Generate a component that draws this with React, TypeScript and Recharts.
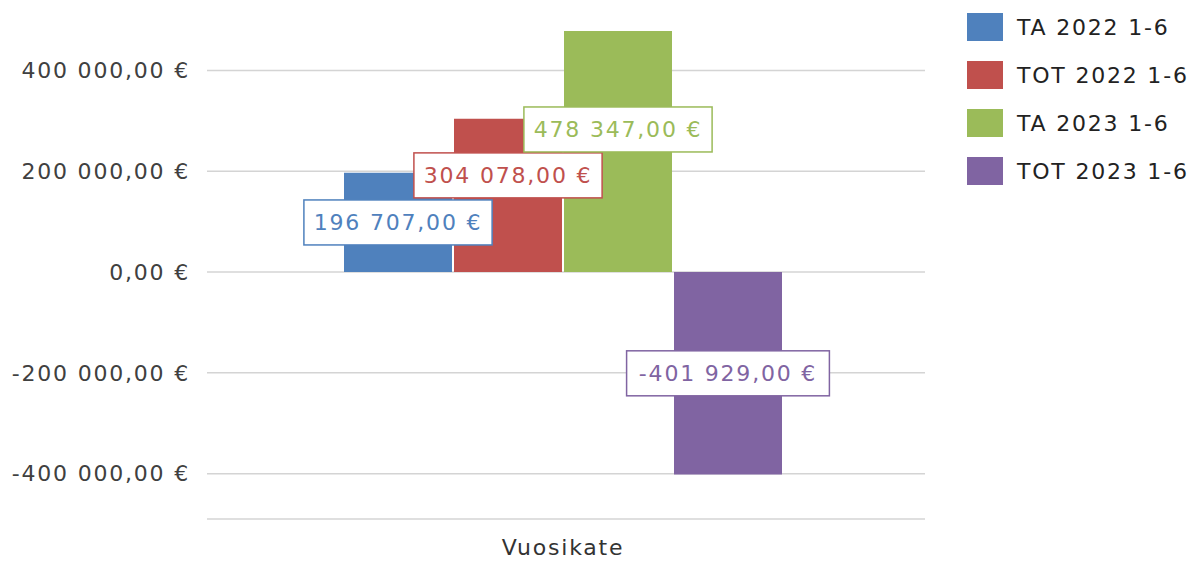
import { BarChart, Bar, XAxis, YAxis, CartesianGrid, Legend, LabelList } from "recharts";

const categories = ["Vuosikate"];
const seriesNames = ["TA 2022 1-6", "TOT 2022 1-6", "TA 2023 1-6", "TOT 2023 1-6"];
const seriesValues = [196707, 304078, 478347, -401929];
const seriesColors = ["#4f81bd", "#c0504d", "#9bbb59", "#8064a2"];
const labelNudge = [0, -20, -22, 0];
const yTicks = [-400000, -200000, 0, 200000, 400000];

const data = categories.map((name) => {
  const row: Record<string, string | number> = { name };
  seriesNames.forEach((s, i) => {
    row["s" + i] = seriesValues[i];
  });
  return row;
});

const FONT = "'DejaVu Sans', Verdana, sans-serif";
const TEXT = { fontSize: 22, fontFamily: FONT, letterSpacing: 1.8 };

function euro(v: number) {
  const sign = v < 0 ? "-" : "";
  const [int, dec] = Math.abs(v).toFixed(2).split(".");
  const grouped = int.replace(/\B(?=(\d{3})+(?!\d))/g, " ");
  return `${sign}${grouped},${dec} €`;
}

function makeLabel(idx: number) {
  return (props: any) => {
    const { x, y, width, height, value } = props;
    const text = euro(Number(value));
    const cx = Number(x) + Number(width) / 2;
    const cy = Number(y) + Number(height) / 2 + labelNudge[idx];
    const w = text.length * 14.6 + 13;
    const h = 45;
    return (
      <g>
        <rect x={cx - w / 2} y={cy - h / 2} width={w} height={h} fill="#fff" stroke={seriesColors[idx]} strokeWidth={1.5} />
        <text x={cx} y={cy} textAnchor="middle" dominantBaseline="central" fill={seriesColors[idx]} {...TEXT}>
          {text}
        </text>
      </g>
    );
  };
}

function LegendBox() {
  return (
    <div style={{ fontFamily: FONT }}>
      {seriesNames.map((s, i) => (
        <div key={s} style={{ display: "flex", alignItems: "center", height: 48 }}>
          <div style={{ width: 36, height: 28, background: seriesColors[i], marginRight: 14 }} />
          <span style={{ fontSize: 22, color: "#222", letterSpacing: 1.8, whiteSpace: "nowrap" }}>{s}</span>
        </div>
      ))}
    </div>
  );
}

export default function App() {
  return (
    <div style={{ position: "absolute", left: 0, top: 0, background: "#fff" }}>
      <BarChart width={1200} height={563} data={data} barSize={108} barGap={2}
        margin={{ top: 20, right: 275, bottom: 0, left: 0 }}>
        <CartesianGrid vertical={false} horizontalValues={yTicks} stroke="#d4d4d4" strokeWidth={1.5} />
        <XAxis dataKey="name" height={44} padding={{ left: 0, right: 6 }}
          axisLine={{ stroke: "#d4d4d4", strokeWidth: 1.5 }} tickLine={false}
          tickSize={0} tickMargin={20} tick={{ fill: "#333", ...TEXT }} />
        <YAxis type="number" domain={[-490000, 500000]} ticks={yTicks} interval={0} width={207}
          axisLine={false} tickLine={false} tickSize={0} tickMargin={17} tickFormatter={euro}
          tick={{ fill: "#404040", ...TEXT }} />
        <Legend layout="vertical" align="center" verticalAlign="middle" content={<LegendBox />}
          wrapperStyle={{ left: 967, top: 3, width: 233 }} />
        {seriesNames.map((s, i) => (
          <Bar key={s} dataKey={"s" + i} name={s} fill={seriesColors[i]} isAnimationActive={false}>
            <LabelList dataKey={"s" + i} content={makeLabel(i)} />
          </Bar>
        ))}
      </BarChart>
    </div>
  );
}
